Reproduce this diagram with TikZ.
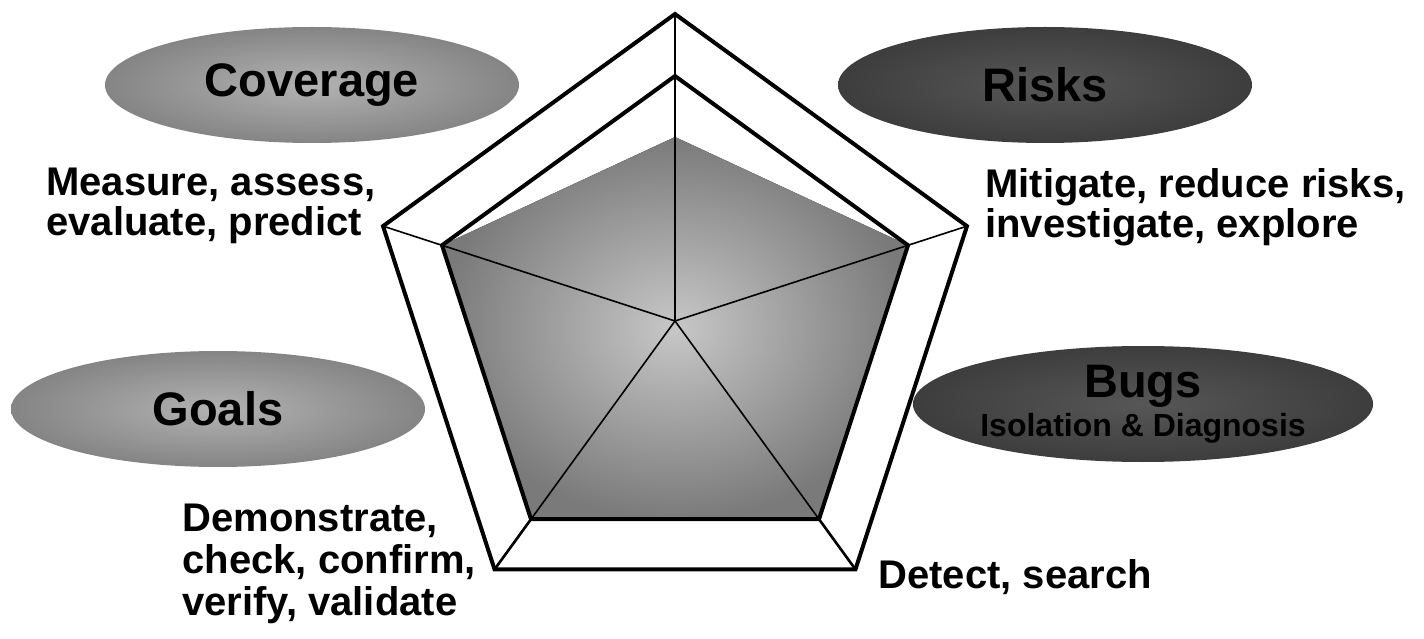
\documentclass[tikz,border=0pt]{standalone}
\usepackage{fontspec}
\setmainfont{Liberation Sans}
\usetikzlibrary{shapes.geometric}
\tikzset{
  blob/.style={ellipse, minimum width=207pt, minimum height=58pt, inner sep=0pt,
    font=\fontsize{23.5}{19.5}\selectfont\bfseries, align=center},
  lightblob/.style={blob, shading=radial, inner color=black!30, outer color=black!48},
  darkblob/.style={blob, shading=radial, inner color=black!66, outer color=black!76},
  verbs/.style={font=\fontsize{20}{20}\selectfont\bfseries, align=left, inner sep=0pt, anchor=north west}
}
\begin{document}
\begin{tikzpicture}[x=0.5pt, y=0.5pt]
    \useasboundingbox (0,0) rectangle (1424,638);
    \coordinate (C) at (675,317);
    \foreach \i/\a in {1/90, 2/18, 3/-54, 4/-126, 5/162} {
        \path (C) ++(\a:307) coordinate (O\i);
        \path (C) ++(\a:245) coordinate (M\i);
    }
    \path (C) ++(90:184) coordinate (D1);
    \fill[shading=radial, inner color=black!22, outer color=black!52]
        (D1) -- (M2) -- (M3) -- (M4) -- (M5) -- cycle;
    \foreach \i in {1,...,5}
        \draw[line width=0.8pt] (C) -- (O\i);
    \foreach \i in {3,4}
        \draw[line width=1.3pt] (M\i) -- (O\i);
    \draw[line width=2pt, line join=miter] (M1) -- (M2) -- (M3) -- (M4) -- (M5) -- cycle;
    \draw[line width=2pt, line join=miter] (O1) -- (O2) -- (O3) -- (O4) -- (O5) -- cycle;

    \node[lightblob] (coverage) at (312,553) {Coverage};
    \node[darkblob] (risks) at (1045,553) {Risks};
    \node[lightblob] (goals) at (218,229) {Goals};
    \node[darkblob] (bugs) at (1143,234) {Bugs\\{\fontsize{16}{19.5}\selectfont Isolation \& Diagnosis}};

    \node[verbs] (measure) at (46,470) {Measure, assess,\\evaluate, predict};
    \node[verbs] (mitigate) at (985,470) {Mitigate, reduce risks,\\investigate, explore};
    \node[verbs, font=\fontsize{20}{21}\selectfont\bfseries] (demo) at (182,134) {Demonstrate,\\check, confirm,\\verify, validate};
    \node[verbs] (detect) at (878,79) {Detect, search};
\end{tikzpicture}
\end{document}
